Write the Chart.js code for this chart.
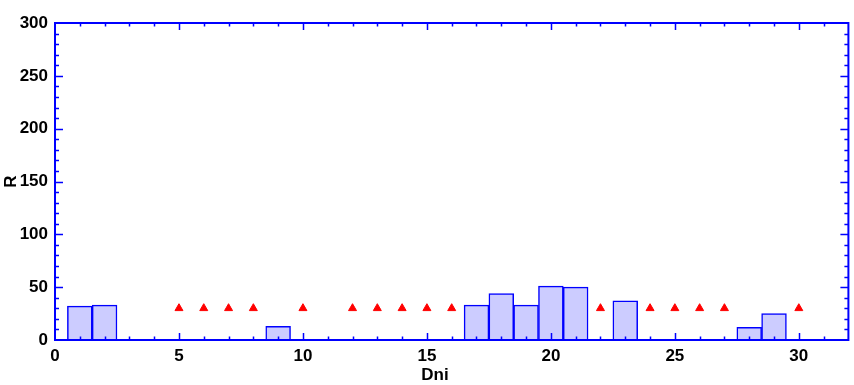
<!DOCTYPE html>
<html>
<head>
<meta charset="utf-8">
<script src="https://cdn.jsdelivr.net/npm/chart.js@4"></script>
<style>
    html, body { margin: 0; padding: 0; background: #fff; overflow: hidden; }
</style>
</head>
<body>
<canvas id="dni" width="854" height="385"></canvas>
<script>
// histogram bins (centre of each 1-wide bin) and their counts
const binCenters = [1, 2, 9, 17, 18, 19, 20, 21, 23, 28, 29];
const binCounts = [32, 33, 13, 33, 44, 33, 51, 50, 37, 12, 25];

// red triangle markers
const markerX = [5, 6, 7, 8, 10, 12, 13, 14, 15, 16, 22, 24, 25, 26, 27, 30];
const markerY = [30, 30, 30, 30, 30, 30, 30, 30, 30, 30, 30, 30, 30, 30, 30, 30];

// axis ranges / ticks
const xRange = [0, 32];
const yRange = [0, 300];
const xMinorStep = 1, xMajorStep = 5;
const yMinorStep = 10, yMajorStep = 50;
const xTitle = 'Dni';
const yTitle = 'R';

const axisBlue = 'rgb(0, 0, 255)';
const fontFamily = '"Liberation Sans", Arial, sans-serif';
const tickFont = { family: fontFamily, size: 17, weight: 'bold' };

// frame, inward ticks on all four sides, axis titles
const frameTicks = {
    id: 'frameTicks',
    afterDraw(chart) {
        const { ctx, chartArea: a, scales } = chart;
        const xs = scales.x, ys = scales.y;
        ctx.save();
        ctx.strokeStyle = axisBlue;
        ctx.lineWidth = 2;
        ctx.strokeRect(a.left, a.top, a.right - a.left, a.bottom - a.top);
        ctx.lineWidth = 1.5;
        ctx.beginPath();
        for (let v = xRange[0] + xMinorStep; v < xRange[1]; v += xMinorStep) {
            const px = Math.round(xs.getPixelForValue(v)) + 0.5;
            const len = v % xMajorStep === 0 ? 7 : 3.5;
            ctx.moveTo(px, a.bottom); ctx.lineTo(px, a.bottom - len);
            ctx.moveTo(px, a.top); ctx.lineTo(px, a.top + len);
        }
        for (let v = yRange[0] + yMinorStep; v < yRange[1]; v += yMinorStep) {
            const py = Math.round(ys.getPixelForValue(v)) + 0.5;
            const len = v % yMajorStep === 0 ? 8 : 4;
            ctx.moveTo(a.left, py); ctx.lineTo(a.left + len, py);
            ctx.moveTo(a.right, py); ctx.lineTo(a.right - len, py);
        }
        ctx.stroke();

        // axis titles
        ctx.fillStyle = '#000';
        ctx.font = 'bold 17px ' + fontFamily;
        ctx.textAlign = 'center';
        ctx.textBaseline = 'middle';
        ctx.fillText(xTitle, 435, 375);
        ctx.translate(11, (a.top + a.bottom) / 2);
        ctx.rotate(-Math.PI / 2);
        ctx.fillText(yTitle, 0, 0);
        ctx.restore();
    }
};

const ctx = document.getElementById('dni').getContext('2d');

const chart = new Chart(ctx, {
    type: 'bar',
    data: {
        datasets: [
            {
                type: 'bar',
                label: 'count',
                data: binCenters.map((x, i) => ({ x: x, y: binCounts[i] })),
                backgroundColor: 'rgb(204, 204, 255)',
                borderColor: axisBlue,
                borderWidth: 1.5,
                barPercentage: 1,
                categoryPercentage: 1,
                order: 2
            },
            {
                type: 'scatter',
                label: 'markers',
                data: markerX.map((x, i) => ({ x: x, y: markerY[i] })),
                pointStyle: 'triangle',
                pointRadius: 4.6,
                backgroundColor: 'rgb(255, 0, 0)',
                borderColor: 'rgb(255, 0, 0)',
                borderWidth: 1,
                order: 1
            }
        ]
    },
    options: {
        responsive: false,
        animation: false,
        layout: {
            padding: { top: 23, right: 1, left: 0, bottom: 0 }
        },
        plugins: {
            legend: { display: false },
            tooltip: { enabled: false }
        },
        scales: {
            x: {
                type: 'linear',
                min: xRange[0],
                max: xRange[1],
                offset: false,
                grid: { display: false, drawTicks: false },
                border: { display: false },
                ticks: {
                    stepSize: xMinorStep,
                    autoSkip: false,
                    maxRotation: 0,
                    padding: 6,
                    color: '#000',
                    font: tickFont,
                    callback: v => v % xMajorStep === 0 ? v : ''
                },
                afterFit: s => {
                    s.height = 45;
                    s.paddingLeft = 0;
                    s.paddingRight = 0;
                }
            },
            y: {
                min: yRange[0],
                max: yRange[1],
                grid: { display: false, drawTicks: false },
                border: { display: false },
                ticks: {
                    stepSize: yMinorStep,
                    autoSkip: false,
                    padding: 7,
                    color: '#000',
                    font: tickFont,
                    callback: v => v % yMajorStep === 0 ? v : ''
                },
                afterFit: s => { s.width = 55; }
            }
        }
    },
    plugins: [frameTicks]
});
</script>
</body>
</html>
